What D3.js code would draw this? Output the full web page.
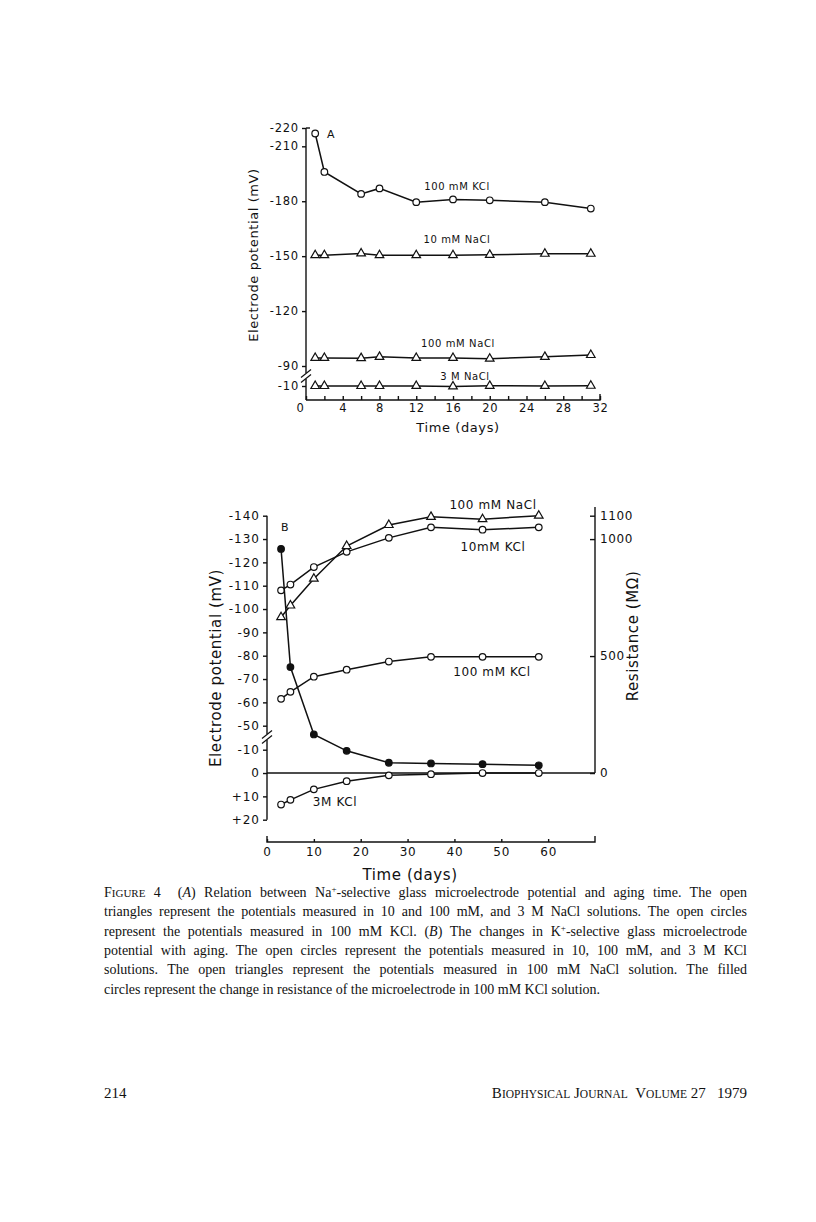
<!DOCTYPE html>
<html>
<head>
<meta charset="utf-8">
<script src="https://cdn.jsdelivr.net/npm/d3@7"></script>
<style>
  body { margin: 0; background: #fff; }
  svg text { fill: #111; }
  .lbl { font-family: "DejaVu Sans", sans-serif; }
  .axis text { font-family: "DejaVu Sans", sans-serif; fill: #111; }
  .axis path, .axis line { stroke: #111; stroke-width: 1.4; }
  .cap { font-family: "Liberation Serif", serif; font-size: 14px; }
</style>
</head>
<body>
<svg id="fig" width="816" height="1222"></svg>
<script>
// panel A: Na+-selective electrode
const daysA = [1, 2, 6, 8, 12, 16, 20, 26, 31];
const kcl100A = [-217, -196, -184, -187, -179.5, -181, -180.5, -179.5, -176];
const nacl10A = [-150.5, -150.5, -151.5, -150.5, -150.5, -150.5, -150.7, -151.3, -151.3];
const nacl100A = [-94.4, -94.4, -94.3, -95, -94.4, -94.4, -94, -95, -96];
const nacl3MA = [-10, -10, -10, -10, -10.2, -9.7, -10.7, -10.3, -11];
const ticksAY = [-220, -210, -180, -150, -120, -90, -10];
const ticksAX = [0, 2, 4, 6, 8, 10, 12, 14, 16, 18, 20, 22, 24, 26, 28, 30, 32];

// panel B: K+-selective electrode
const daysB = [3, 5, 10, 17, 26, 35, 46, 58];
const nacl100B = [-96.5, -101.5, -113, -127, -136, -139.5, -138.5, -140];
const kcl10B = [-108, -110.5, -118, -124.5, -130.5, -135, -134, -135];
const kcl100B = [-61.5, -64.5, -71, -74, -77.5, -79.5, -79.5, -79.5];
const kcl3MB = [13.5, 11.5, 7, 3.5, 1, 0.5, 0, 0];
const resistB = [958, 453, 165, 95, 44, 41, 38, 33];
const ticksBY = [-140, -130, -120, -110, -100, -90, -80, -70, -60, -50, -10, 0, 10, 20];
const ticksBX = [0, 10, 20, 30, 40, 50, 60];
const ticksBR = [1100, 1000, 500, 0];

const captionLines = [
  "FIGURE 4|(A) Relation between Na+-selective glass microelectrode potential and aging time. The open",
  "triangles represent the potentials measured in 10 and 100 mM, and 3 M NaCl solutions. The open circles",
  "represent the potentials measured in 100 mM KCl. (B) The changes in K+-selective glass microelectrode",
  "potential with aging. The open circles represent the potentials measured in 10, 100 mM, and 3 M KCl",
  "solutions. The open triangles represent the potentials measured in 100 mM NaCl solution. The filled",
  "circles represent the change in resistance of the microelectrode in 100 mM KCl solution."
];

const svg = d3.select("#fig");

// helpers
function series(g, xs, ys, x, y, kind) {
  const pts = xs.map((d, i) => [x(d), y(ys[i])]);
  g.append("path")
    .attr("d", d3.line()(pts))
    .attr("fill", "none")
    .attr("stroke", "#111")
    .attr("stroke-width", 1.5);
  if (kind === "tri") {
    g.selectAll(null).data(pts).enter().append("path")
      .attr("d", d3.symbol(d3.symbolTriangle, 32)())
      .attr("transform", d => "translate(" + d[0] + "," + d[1] + ")")
      .attr("fill", "#fff").attr("stroke", "#111").attr("stroke-width", 1.2);
  } else {
    g.selectAll(null).data(pts).enter().append("circle")
      .attr("cx", d => d[0]).attr("cy", d => d[1]).attr("r", 3.3)
      .attr("fill", kind === "filled" ? "#111" : "#fff")
      .attr("stroke", "#111").attr("stroke-width", 1.2);
  }
}

function breakMark(g, x, y) {
  g.append("rect").attr("x", x - 3).attr("y", y - 3).attr("width", 6).attr("height", 6).attr("fill", "#fff");
  [-2.5, 2.5].forEach(o => {
    g.append("line")
      .attr("x1", x - 5).attr("y1", y + o + 4)
      .attr("x2", x + 5).attr("y2", y + o - 4)
      .attr("stroke", "#111").attr("stroke-width", 1.2);
  });
}

function label(txt, x, y, size, opts) {
  const t = svg.append("text").attr("class", "lbl")
    .attr("x", x).attr("y", y)
    .attr("text-anchor", "middle")
    .style("font-size", size + "px")
    .style("letter-spacing", (opts && opts.ls != null ? opts.ls : 0.6) + "px")
    .text(txt);
  if (opts && opts.rot) t.attr("transform", "rotate(-90," + x + "," + y + ")");
  return t;
}

// ---------- panel A ----------
const xA = d3.scaleLinear().domain([0, 32]).range([306, 600]);
const yA = d3.scaleLinear().domain([-220, -90, -10, 0]).range([128, 366, 386, 400]);

const gA = svg.append("g");

gA.append("g").attr("class", "axis")
  .attr("transform", "translate(306,0)")
  .call(d3.axisLeft(yA).tickValues(ticksAY).tickSize(4).tickSizeOuter(0).tickPadding(3)
    .tickFormat(d => d))
  .call(g => g.select(".domain").remove())
  .call(g => g.selectAll("text").style("font-size", "11.5px").style("letter-spacing", "0.8px"));
gA.append("line").attr("x1", 306).attr("x2", 306).attr("y1", yA(-220)).attr("y2", 400)
  .attr("stroke", "#111").attr("stroke-width", 1.4);
gA.append("line").attr("x1", 306).attr("x2", 310).attr("y1", yA(-220)).attr("y2", yA(-220))
  .attr("stroke", "#111").attr("stroke-width", 1.4);

gA.append("g").attr("class", "axis")
  .attr("transform", "translate(0,400)")
  .call(d3.axisBottom(xA).tickValues(ticksAX).tickSizeInner(-4).tickSizeOuter(0).tickPadding(4)
    .tickFormat(d => d % 4 === 0 ? d : ""))
  .call(g => g.select(".domain").attr("d", "M306,0H600V-6"))
  .call(g => g.selectAll("text").style("font-size", "11.5px").style("letter-spacing", "0.8px"))
  .call(g => g.selectAll(".tick").filter(d => d === 0).select("text").attr("dx", "-6"));

breakMark(gA, 306, 376);

series(gA, daysA, kcl100A, xA, yA, "open");
series(gA, daysA, nacl10A, xA, yA, "tri");
series(gA, daysA, nacl100A, xA, yA, "tri");
series(gA, daysA, nacl3MA, xA, yA, "tri");

label("A", 331, 138, 11);
label("100 mM KCl", 457, 190, 10);
label("10 mM NaCl", 457, 243, 10);
label("100 mM NaCl", 458, 347, 10);
label("3 M NaCl", 465, 380, 10);
label("Time (days)", 458, 432, 13);
label("Electrode potential (mV)", 258, 255, 13, { rot: true });

// ---------- panel B ----------
const xB = d3.scaleLinear().domain([0, 70]).range([267, 595]);
const yB = d3.scaleLinear().domain([-140, -50, -10, 20]).range([515.7, 725.7, 749.7, 819.7]);
const rB = d3.scaleLinear().domain([0, 1100]).range([yB(0), 515.7]);

const gB = svg.append("g");

gB.append("g").attr("class", "axis")
  .attr("transform", "translate(267,0)")
  .call(d3.axisLeft(yB).tickValues(ticksBY).tickSize(4).tickSizeOuter(0).tickPadding(3)
    .tickFormat(d => d > 0 ? "+" + d : d))
  .call(g => g.select(".domain").remove())
  .call(g => g.selectAll("text").style("font-size", "12px").style("letter-spacing", "1px"));
gB.append("line").attr("x1", 267).attr("x2", 267).attr("y1", yB(-140)).attr("y2", yB(20))
  .attr("stroke", "#111").attr("stroke-width", 1.4);
breakMark(gB, 267, 737);

gB.append("g").attr("class", "axis")
  .attr("transform", "translate(595,0)")
  .call(d3.axisRight(rB).tickValues(ticksBR).tickSizeInner(-5).tickSizeOuter(0).tickPadding(5)
    .tickFormat(d => d))
  .call(g => g.select(".domain").remove())
  .call(g => g.selectAll("text").style("font-size", "12px").style("letter-spacing", "0.6px"));
gB.append("line").attr("x1", 595).attr("x2", 595).attr("y1", 507).attr("y2", rB(0))
  .attr("stroke", "#111").attr("stroke-width", 1.4);

// zero line
gB.append("line").attr("x1", 267).attr("x2", 595).attr("y1", yB(0)).attr("y2", yB(0))
  .attr("stroke", "#111").attr("stroke-width", 1.4);

gB.append("g").attr("class", "axis")
  .attr("transform", "translate(0,842)")
  .call(d3.axisBottom(xB).tickValues(ticksBX).tickSizeInner(-3).tickSizeOuter(0).tickPadding(5))
  .call(g => g.select(".domain").attr("d", "M267,-6V0H595V-6"))
  .call(g => g.selectAll("text").style("font-size", "12px").style("letter-spacing", "0.8px"));

series(gB, daysB, nacl100B, xB, yB, "tri");
series(gB, daysB, kcl10B, xB, yB, "open");
series(gB, daysB, kcl100B, xB, yB, "open");
series(gB, daysB, kcl3MB, xB, yB, "open");
series(gB, daysB, resistB, xB, rB, "filled");

label("B", 285, 531, 11);
label("100 mM NaCl", 493, 509, 12);
label("10mM KCl", 493, 551, 12);
label("100 mM KCl", 492, 676, 12);
label("3M KCl", 335, 806, 12);
label("Time (days)", 410, 880, 15);
label("Electrode potential (mV)", 221, 668, 15, { rot: true });
label("Resistance (MΩ)", 638, 636, 15, { rot: true });

// ---------- caption ----------
const capX = 104, capW = 643;
captionLines.forEach((line, i) => {
  const t = svg.append("text").attr("class", "cap")
    .attr("x", capX).attr("y", 897 + i * 19.3);
  let rest = line;
  if (i === 0) {
    t.append("tspan").text("F");
    t.append("tspan").style("font-size", "11px").text("IGURE");
    t.append("tspan").text("\u00a04\u00a0\u00a0");
    rest = line.split("|")[1];
  }
  // italic A / B and superscript plus
  const parts = rest.split(/(\([AB]\)|[A-Za-z]+\+)/);
  parts.forEach(p => {
    if (!p) return;
    let m;
    if ((m = p.match(/^\(([AB])\)$/))) {
      t.append("tspan").text("(");
      t.append("tspan").style("font-style", "italic").text(m[1]);
      t.append("tspan").text(")");
    } else if ((m = p.match(/^([A-Za-z]+)\+$/))) {
      t.append("tspan").text(m[1]);
      t.append("tspan").attr("baseline-shift", "super").style("font-size", "9px").text("+");
    } else {
      t.append("tspan").text(p);
    }
  });
  if (i < captionLines.length - 1) {
    const w = t.node().getComputedTextLength();
    const spaces = (t.text().match(/[ \u00a0]/g) || []).length;
    if (spaces > 0) t.style("word-spacing", ((capW - w) / spaces) + "px");
  }
});

// ---------- footer ----------
svg.append("text").attr("class", "cap").attr("x", 104).attr("y", 1098)
  .style("font-size", "15px").text("214");
const foot = svg.append("text").attr("class", "cap").attr("x", 747).attr("y", 1098)
  .attr("text-anchor", "end").style("font-size", "15px");
[["B", "IOPHYSICAL"], ["J", "OURNAL"], ["V", "OLUME"]].forEach((w, i) => {
  foot.append("tspan").text((i === 2 ? "\u00a0\u00a0" : i ? "\u00a0" : "") + w[0]);
  foot.append("tspan").style("font-size", "11.5px").text(w[1]);
});
foot.append("tspan").text(" 27\u00a0\u00a0\u00a01979");
</script>
</body>
</html>
